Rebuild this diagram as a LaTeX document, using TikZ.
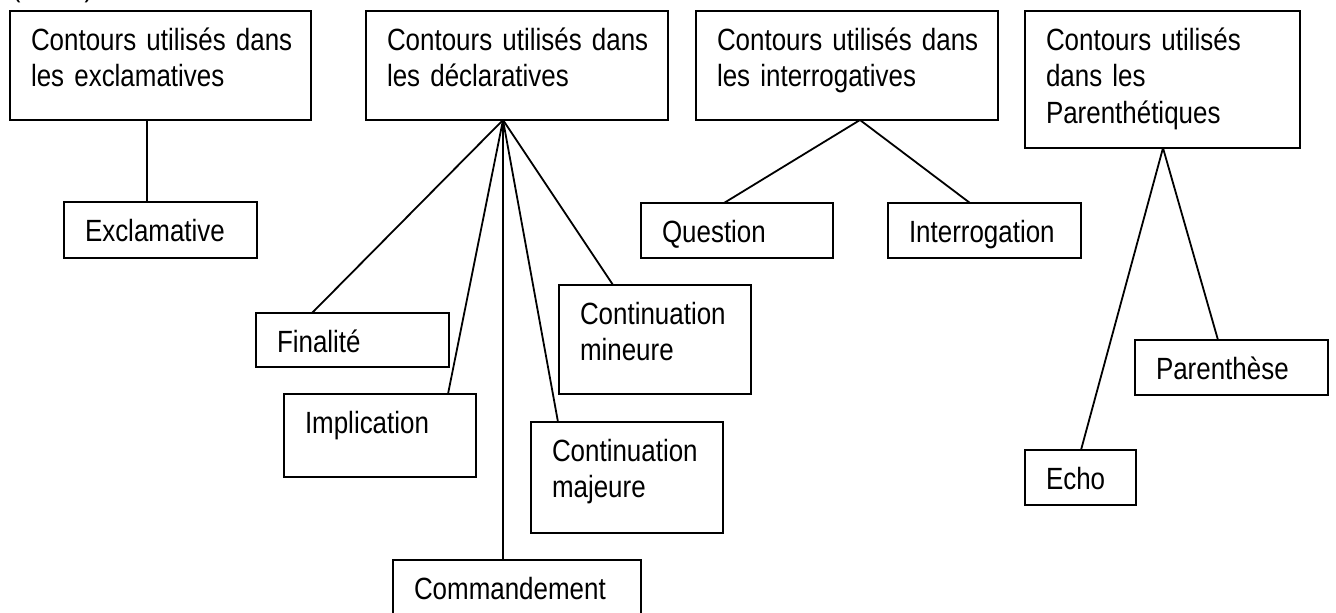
\documentclass[tikz,border=0pt]{standalone}
\usepackage{fontspec}
\setmainfont{Liberation Sans}[FakeStretch=0.845]
\usetikzlibrary{calc}

\begin{document}
\begin{tikzpicture}[x=1pt,y=-1pt,line width=1.8pt,
  every node/.style={font=\fontsize{30.7pt}{36.5pt}\selectfont},
  cbox/.style={draw,anchor=north west,align=left,outer sep=0pt,
    inner xsep=0pt,inner ysep=0pt,text height=39pt,
    execute at begin node={\leftskip=21pt\relax}}]
  \clip (0,0) rectangle (1336,613);
  \useasboundingbox (0,0) rectangle (1336,613);
  % heading, cut off at the top
  \node[anchor=base west,inner sep=0pt] (head) at (11,-3.5) {(\hspace{64pt})};
  % the four families
  \node[cbox,text width=301pt,text depth=70pt] (exclam) at (10,11)
    {Contours utilisés dans\\les exclamatives};
  \node[cbox,text width=302pt,text depth=70pt] (declar) at (366,11)
    {Contours utilisés dans\\les déclaratives};
  \node[cbox,text width=302pt,text depth=70pt] (interrog) at (696,11)
    {Contours utilisés dans\\les interrogatives};
  \node[cbox,text width=275pt,text depth=98pt] (parenth) at (1025,11)
    {Contours utilisés\\dans les\\Parenthétiques};
  % contours
  \node[cbox,text width=193pt,text depth=17pt] (excl) at (64,202) {Exclamative};
  \node[cbox,text width=193pt,text depth=15pt] (final) at (256,313) {Finalité};
  \node[cbox,text width=192pt,text depth=44pt] (impl) at (284,394) {Implication};
  \node[cbox,text width=248pt,text depth=51pt] (cmd) at (393,560) {Commandement};
  \node[cbox,text width=192pt,text depth=72pt] (cmaj) at (531,422) {Continuation\\majeure};
  \node[cbox,text width=192pt,text depth=70pt] (cmin) at (559,285) {Continuation\\mineure};
  \node[cbox,text width=192pt,text depth=16pt] (quest) at (641,203) {Question};
  \node[cbox,text width=193pt,text depth=16pt] (interro) at (888,203) {Interrogation};
  \node[cbox,text width=193pt,text depth=16pt] (parenthese) at (1135,340) {Parenthèse};
  \node[cbox,text width=111pt,text depth=16pt] (echo) at (1025,450) {Echo};
  % roots of the fans
  \coordinate (exclam-root) at ($(exclam.south west)+(137,0)$);
  \coordinate (declar-root) at ($(declar.south west)+(137,0)$);
  \coordinate (interrog-root) at ($(interrog.south west)+(164,0)$);
  \coordinate (parenth-root) at ($(parenth.south west)+(138,0)$);
  % connectors
  \draw (exclam-root) -- ($(excl.north west)+(83,0)$);
  \draw (declar-root) -- ($(final.north west)+(56,0)$);
  \draw (declar-root) -- ($(impl.north west)+(164,0)$);
  \draw (declar-root) -- ($(cmd.north west)+(110,0)$);
  \draw (declar-root) -- ($(cmaj.north west)+(27,0)$);
  \draw (declar-root) -- ($(cmin.north west)+(54,0)$);
  \draw (interrog-root) -- ($(quest.north west)+(83,0)$);
  \draw (interrog-root) -- ($(interro.north west)+(82,0)$);
  \draw (parenth-root) -- ($(parenthese.north west)+(83,0)$);
  \draw (parenth-root) -- ($(echo.north west)+(56,0)$);
\end{tikzpicture}
\end{document}
